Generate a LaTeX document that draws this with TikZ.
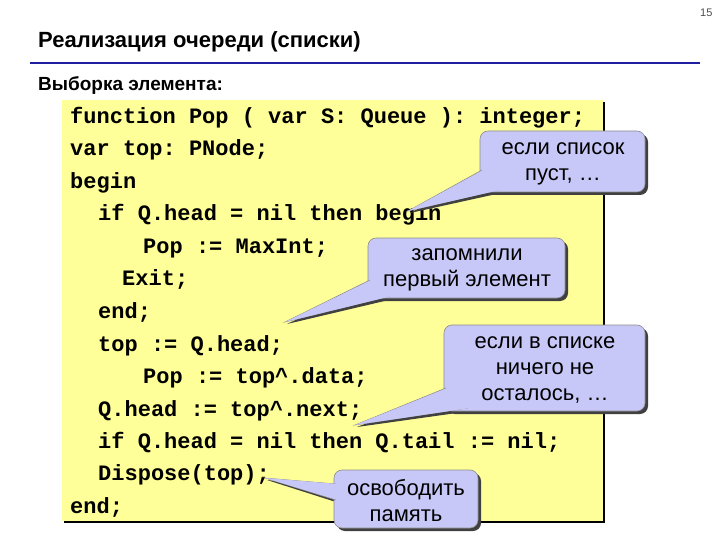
\documentclass[tikz,border=0pt]{standalone}
\usepackage{fontspec}
\setmainfont{Liberation Sans}
\setmonofont{Liberation Mono}
\definecolor{codebg}{HTML}{FFFF99}
\definecolor{callbg}{HTML}{C8C8F8}
\definecolor{rulebl}{HTML}{1F1FA0}
\begin{document}
\begin{tikzpicture}[x=1pt,y=-1pt,
  code/.style={anchor=base west,inner sep=0pt,font=\fontsize{22}{24}\selectfont\ttfamily\bfseries},
  calltext/.style={align=center,font=\fontsize{22}{26}\selectfont,inner sep=0pt},
  callshape/.style={fill=callbg,draw=black!45,line width=0.6pt}]
\useasboundingbox (0,0) rectangle (720,540);
\node[anchor=east,font=\fontsize{11}{12}\selectfont,text=black!70] (pg) at (716,13) {15};
\node[anchor=base west,inner sep=0pt,font=\fontsize{22}{26}\selectfont\bfseries] (title) at (38,48) {Реализация очереди (списки)};
\draw[rulebl,line width=1.5pt] (30,63) -- (700,63);
\node[anchor=base west,inner sep=0pt,font=\fontsize{19}{22}\selectfont\bfseries] (sub) at (38,91) {Выборка элемента:};
% code box
\fill[black] (64,102) rectangle (605,523);
\fill[codebg] (62,100) rectangle (603,521);
\node[code] (l1) at (70,124) {function Pop ( var S: Queue ): integer;};
\node[code] (l2) at (70,156) {var top: PNode;};
\node[code] (l3) at (70,189) {begin};
\node[code] (l4) at (98,221) {if Q.head = nil then begin};
\node[code] (l5) at (143,253) {Pop := MaxInt;};
\node[code] (l6) at (122,285) {Exit;};
\node[code] (l7) at (98,318) {end;};
\node[code] (l8) at (98,351) {top := Q.head;};
\node[code] (l9) at (143,383) {Pop := top\textasciicircum.data;};
\node[code] (l10) at (98,416) {Q.head := top\textasciicircum.next;};
\node[code] (l11) at (98,448) {if Q.head = nil then Q.tail := nil;};
\node[code] (l12) at (98,480) {Dispose(top);};
\node[code] (l13) at (70,513) {end;};
% callouts: shadow, then shape
\foreach \x/\y/\w/\h/\ax/\ay/\bx/\by/\tx/\ty in {
  480/131/165/61/482/170/498/190/408/211,
  368/238/197/60/370/280/390/296/285/322,
  444/325/201/86/446/388/468/408/355/425,
  334/470/144/58/336/484/336/500/265/478}{
  \fill[black!75] (\x+3,\y+3) [rounded corners=8pt] rectangle ++(\w,\h);
  \fill[black!75] (\ax+3,\ay+3) -- (\tx+2,\ty+2) -- (\bx+3,\by+3) -- cycle;
  \draw[callshape,rounded corners=8pt] (\x,\y) rectangle ++(\w,\h);
  \draw[callshape] (\ax,\ay) -- (\tx,\ty) -- (\bx,\by);
  \fill[callbg] (\ax+2,\ay) -- (\tx,\ty) -- (\bx+2,\by) -- cycle;
}
\node[calltext] (c1) at (563,164) {если список\\пуст, \dots};
\node[calltext] (c2) at (467,270) {запомнили\\первый элемент};
\node[calltext] (c3) at (545,370) {если в списке\\ничего не\\осталось, \dots};
\node[calltext] (c4) at (406,501) {освободить\\память};
\end{tikzpicture}
\end{document}
